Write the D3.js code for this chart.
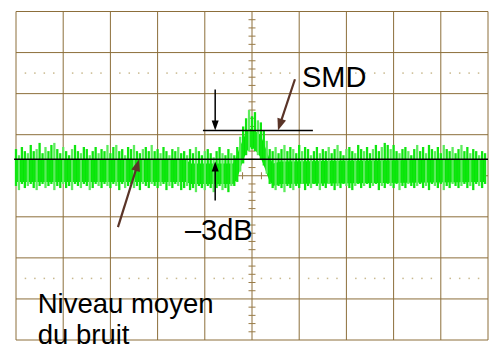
<!DOCTYPE html>
<html>
<head>
<meta charset="utf-8">
<script src="https://cdn.jsdelivr.net/npm/d3@7"></script>
<style>
    body { margin: 0; background: #fff; }
    svg { display: block; }
    text { font-family: "Liberation Sans", Arial, sans-serif; fill: #000; }
</style>
</head>
<body>
<svg id="scope" width="489" height="350"></svg>
<script>
// screen: 10 horizontal divisions, 8 vertical divisions of 20 units each
let xDivisions = d3.range(0, 11);
let yDivisions = d3.range(-80, 81, 20);
let dottedRows = [50, -50];

// trace, one sample every 1/16 division
let sampleStep = 1 / 16;
let traceHi = [
    13, 10, 14, 12, 11, 15, 12, 13, 16, 11, 14, 12, 15, 16, 13, 11,
    14, 12, 10, 13, 15, 12, 11, 14, 13, 10, 12, 14, 11, 13, 12, 15,
    11, 14, 15, 12, 13, 10, 14, 13, 15, 12, 11, 13, 14, 12, 15, 12,
    13, 11, 14, 12, 10, 13, 12, 14, 11, 12, 10, 13, 11, 14, 12, 10,
    12, 13, 11, 9, 12, 14, 11, 10, 13, 11,
    10, 14, 19, 24, 28, 32, 29, 31, 27, 26, 22, 17, 13, 12,
    14, 11, 13, 15, 12, 14, 13, 11, 15, 12, 14, 13, 10, 12, 14, 11,
    13, 12, 14, 11, 13, 15, 12, 10, 13, 14, 12, 11, 15, 13, 12, 14,
    11, 13, 15, 12, 14, 16, 15, 13, 15, 12, 11, 13, 14, 12, 10, 13,
    15, 12, 14, 11, 15, 13, 12, 14, 11, 15, 13, 12, 14, 11, 13, 15,
    12, 14, 11, 13, 12, 10, 12, 11
];
let traceLo = [
    -5, -7, -4, -6, -5, -4, -6, -7, -5, -4, -6, -5, -4, -7, -5, -6,
    -4, -6, -5, -7, -4, -5, -6, -4, -5, -7, -6, -4, -5, -6, -4, -5,
    -6, -4, -5, -7, -4, -6, -5, -4, -6, -5, -7, -4, -5, -6, -4, -5,
    -6, -5, -4, -7, -5, -6, -4, -5, -7, -6, -5, -7, -6, -8, -5, -6,
    -7, -5, -6, -8, -6, -5, -7, -6, -8, -5,
    -5, -3, 2, 6, 10, 12, 13, 12, 10, 8, 5, 1, -4, -6,
    -7, -5, -6, -8, -5, -6, -7, -5, -6, -4, -7, -5, -6, -4, -5, -7,
    -5, -6, -4, -5, -7, -5, -6, -4, -5, -6, -7, -5, -4, -6, -5, -4,
    -6, -5, -4, -7, -5, -6, -4, -5, -6, -4, -7, -5, -6, -4, -5, -6,
    -5, -4, -6, -5, -7, -4, -5, -6, -4, -7, -5, -6, -4, -5, -6, -5,
    -4, -6, -5, -7, -4, -5, -6, -4
];

// dense band of the trace
let coreX = [0, 3.6, 3.7, 4.6, 4.68, 4.76, 4.87, 4.95, 5.05, 5.18, 5.25, 5.36, 5.45, 5.6, 9.94];
let coreTop = [8, 8, 6, 6, 10, 15, 21, 23, 22, 20, 16, 9, 6, 7, 8];
let coreBottom = [-3, -3, -4, -4, -2, 4, 11, 14, 13, 9, 5, -2, -5, -4, -3];

let meanLevel = 8;
let smdLevel = 22;
let smdSpan = [3.96, 6.29];

let blackArrows = [
    [[4.22, 42], [4.22, smdLevel]],
    [[4.22, -12], [4.22, 7]]
];
let brownArrows = [
    [[5.91, 47], [5.55, smdLevel]],
    [[2.16, -25], [2.61, meanLevel]]
];
let labels = [
    {text: 'SMD', t: 6.06, v: 43.4, size: 29},
    {text: '\u20133dB', t: 3.58, v: -31.5, size: 29},
    {text: 'Niveau moyen', t: 0.46, v: -67.0, size: 27.5},
    {text: 'du bruit', t: 0.46, v: -81.8, size: 27.5}
];

let svg = d3.select('svg#scope');
let x = d3.scaleLinear().domain([0, 10]).range([16, 488]);
let y = d3.scaleLinear().domain([-80, 80]).range([340, 11.5]);

// graticule
let grid = svg.append('g').attr('stroke', '#8c6e3a').attr('stroke-width', 1);
grid.selectAll('line.v')
    .data(xDivisions)
    .enter().append('line')
    .attr('class', 'v')
    .attr('x1', d => x(d)).attr('x2', d => x(d))
    .attr('y1', y(80)).attr('y2', y(-80));
grid.selectAll('line.h')
    .data(yDivisions)
    .enter().append('line')
    .attr('class', 'h')
    .attr('x1', x(0)).attr('x2', x(10))
    .attr('y1', d => y(d)).attr('y2', d => y(d));

let subX = d3.range(1, 50).filter(k => k % 5 != 0).map(k => k / 5);
let subY = d3.range(1, 40).filter(k => k % 5 != 0).map(k => -80 + k * 4);

let dots = [];
dottedRows.forEach(r => subX.forEach(t => dots.push({t: t, v: r})));
svg.append('g').selectAll('rect')
    .data(dots)
    .enter().append('rect')
    .attr('x', d => x(d.t) - 0.75)
    .attr('y', d => y(d.v) - 0.75)
    .attr('width', 1.5)
    .attr('height', 1.5)
    .attr('fill', '#c9b98f');

// centre axes with minor ticks
let axes = svg.append('g').attr('stroke', '#9a7c48').attr('stroke-width', 1);
axes.selectAll('line.ty')
    .data(subY)
    .enter().append('line')
    .attr('x1', x(5) - 3.5).attr('x2', x(5) + 3.5)
    .attr('y1', d => y(d)).attr('y2', d => y(d));
axes.selectAll('line.tx')
    .data(subX)
    .enter().append('line')
    .attr('x1', d => x(d)).attr('x2', d => x(d))
    .attr('y1', y(0) - 3.5).attr('y2', y(0) + 3.5);

// trace
let core = coreX.map((t, i) => ({t: t, top: coreTop[i], bottom: coreBottom[i]}));
svg.append('path')
    .datum(core)
    .attr('fill', '#00e600')
    .attr('d', d3.area().x(d => x(d.t)).y0(d => y(d.bottom)).y1(d => y(d.top)));

let samples = traceHi.map((hi, i) => ({t: i * sampleStep, hi: hi, lo: traceLo[i]}));
svg.append('g').selectAll('line')
    .data(samples)
    .enter().append('line')
    .attr('x1', d => x(d.t)).attr('x2', d => x(d.t))
    .attr('y1', d => y(d.hi)).attr('y2', d => y(d.lo))
    .attr('stroke', (d, i) => i % 3 == 1 ? '#5cec5c' : '#10e610')
    .attr('stroke-width', 2.3);

// reference lines
svg.append('line')
    .attr('x1', x(-0.04)).attr('x2', x(10))
    .attr('y1', y(meanLevel)).attr('y2', y(meanLevel))
    .attr('stroke', '#000').attr('stroke-width', 1.5);
svg.append('line')
    .attr('x1', x(smdSpan[0])).attr('x2', x(smdSpan[1]))
    .attr('y1', y(smdLevel)).attr('y2', y(smdLevel))
    .attr('stroke', '#000').attr('stroke-width', 1.5);

function arrow(p0, p1, color, width, headLen, headHalf) {
    let x0 = x(p0[0]), y0 = y(p0[1]), x1 = x(p1[0]), y1 = y(p1[1]);
    let len = Math.hypot(x1 - x0, y1 - y0);
    let ux = (x1 - x0) / len, uy = (y1 - y0) / len;
    let bx = x1 - ux * headLen, by = y1 - uy * headLen;
    svg.append('line')
        .attr('x1', x0).attr('y1', y0)
        .attr('x2', bx + ux).attr('y2', by + uy)
        .attr('stroke', color).attr('stroke-width', width);
    svg.append('path')
        .attr('d', `M${x1},${y1}L${bx - uy * headHalf},${by + ux * headHalf}L${bx + uy * headHalf},${by - ux * headHalf}Z`)
        .attr('fill', color);
}

blackArrows.forEach(a => arrow(a[0], a[1], '#000', 1.5, 10, 3.5));
brownArrows.forEach(a => arrow(a[0], a[1], '#5a3428', 2.2, 12, 4.5));

svg.append('g').selectAll('text')
    .data(labels)
    .enter().append('text')
    .attr('x', d => x(d.t))
    .attr('y', d => y(d.v))
    .attr('font-size', d => d.size + 'px')
    .text(d => d.text);
</script>
</body>
</html>
